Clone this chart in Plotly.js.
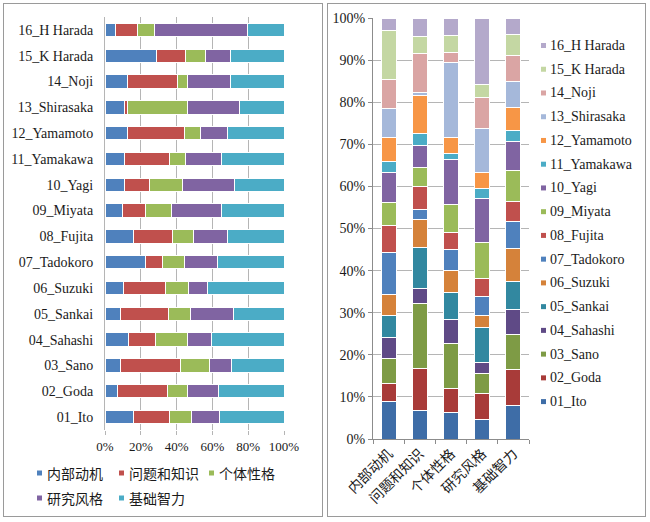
<!DOCTYPE html>
<html><head><meta charset="utf-8">
<script src="https://cdn.plot.ly/plotly-3.0.1.min.js"></script>
<style>
html,body{margin:0;padding:0;background:#fff;}
#left,#right{position:absolute;top:3px;height:514px;border:1px solid #9a9a9a;box-sizing:border-box;background:#fff;}
#left{left:3px;width:320px;}
#right{left:327px;width:319px;}
</style></head><body>
<div id="left"></div><div id="right"></div>
<script>
// ---------- shared labels ----------
const persons = ['01_Ito','02_Goda','03_Sano','04_Sahashi','05_Sankai','06_Suzuki','07_Tadokoro','08_Fujita',
  '09_Miyata','10_Yagi','11_Yamakawa','12_Yamamoto','13_Shirasaka','14_Noji','15_K Harada','16_H Harada'];
const dimensions = ['内部动机','问题和知识','个体性格','研究风格','基础智力'];
const xTickLabels = ['0%','20%','40%','60%','80%','100%'];

// ---------- left chart: share of each dimension within a person (%) ----------
const rowMotivation  = [15.9, 6.7, 8.6,12.9, 8.4,10.1,22.7,15.7, 9.6,10.9,10.9,12.7,11.0,12.7,28.7, 5.6];
const rowKnowledge   = [20.0,27.9,33.7,15.2,26.8,23.8, 9.4,21.9,13.1,13.7,24.9,31.6, 1.5,27.7,16.5,12.7];
const rowPersonality = [12.4,11.2,15.9,17.8,12.4,12.5,12.5,11.8,14.4,18.9, 9.4, 9.2,33.5, 5.4,11.2, 9.2];
const rowStyle       = [15.4,17.8,12.4,13.7,24.3,10.7,18.5,19.3,28.1,29.0,20.0,14.6,29.0,24.5,13.5,52.2];
const rowIntellect   = [36.3,36.3,29.4,40.4,28.1,42.9,36.9,31.3,34.8,27.5,34.8,31.8,24.9,29.6,30.1,20.2];

// ---------- right chart: share of each person within a dimension (%) ----------
const colMotivation  = [8.9, 4.2, 6.1, 4.9, 5.2, 5.1, 9.9, 6.4, 5.4, 7.3, 2.4, 5.7, 7.0, 6.9,11.7, 2.9];
const colKnowledge   = [6.7,10.1,15.5, 3.4, 9.7, 6.8, 2.4, 5.3, 4.5, 5.4, 2.8, 8.9, 0.8, 9.2, 4.2, 4.3];
const colPersonality = [6.2, 5.9,10.5, 5.9, 6.4, 5.2, 4.9, 4.0, 6.8,10.6, 1.5, 3.6,18.0, 2.3, 4.1, 4.1];
const colStyle       = [4.7, 6.0, 4.9, 2.6, 8.3, 2.9, 4.4, 4.4, 8.5,10.4, 2.3, 3.8,10.6, 7.4, 3.0,15.8];
const colIntellect   = [7.9, 8.7, 8.3, 5.9, 6.5, 8.0, 6.4, 4.7, 7.3, 6.9, 2.6, 5.6, 6.2, 6.1, 4.9, 4.0];

// ---------- styles ----------
const dimColors = ['#4F81BD','#C0504D','#9BBB59','#8064A2','#4BACC6'];
const personColors = ['#3E6DA7','#A83B39','#7E9B45','#5F4A86','#3288A0','#D5823A','#4F81BD','#C0504D',
  '#9BBB59','#8064A2','#4BACC6','#F79646','#A5B8DA','#DAA5A4','#C4D7A3','#B4A9CB'];
const serif = 'Liberation Serif, Times New Roman, serif';
const cjk = 'Noto Sans CJK SC, sans-serif';
const gridC = '#b5b5b5';
const txtC = '#1a1a1a';

// ================= LEFT =================
(function(){
  const W = 318, H = 512, L = 101, T = 13, PW = 179, PH = 413;
  const rows = [rowMotivation, rowKnowledge, rowPersonality, rowStyle, rowIntellect];
  const traces = rows.map((vals, i) => ({
    type: 'bar', orientation: 'h', name: dimensions[i], y: persons, x: vals,
    marker: {color: dimColors[i], line: {color: '#ffffff', width: 1}},
    hoverinfo: 'y+x+name'
  }));
  // legend built from the dimension names / colours
  const px2x = p => (p - (L + 4)) / PW;
  const px2y = p => ((T + 4 + PH) - p) / PH;
  const legPos = [[37,473],[119,473],[209,473],[37,498],[119,498]];
  const shapes = [], annotations = [];
  dimensions.forEach((d, i) => {
    const [sx, sy] = legPos[i];
    shapes.push({type:'rect', xref:'paper', yref:'paper', x0: px2x(sx), x1: px2x(sx+5), y0: px2y(sy+2.5), y1: px2y(sy-2.5),
      fillcolor: dimColors[i], line: {width: 0}});
    annotations.push({xref:'paper', yref:'paper', x: px2x(sx+8), y: px2y(sy), xanchor:'left', yanchor:'middle',
      text: d, showarrow:false, font:{family: cjk, size: 14, color: txtC}});
  });
  const layout = {
    width: W, height: H, margin: {l: L, r: W - L - PW, t: T, b: H - T - PH},
    paper_bgcolor: '#fff', plot_bgcolor: '#fff',
    barmode: 'stack', barnorm: 'percent', bargap: 0.48, showlegend: false,
    xaxis: {range: [0, 100], tickvals: [0,20,40,60,80,100], ticktext: xTickLabels, showgrid: true, gridcolor: gridC, gridwidth: 1,
      zeroline: false, showline: false, ticks: 'outside', ticklen: 4, tickcolor: gridC,
      tickfont: {family: serif, size: 13, color: txtC}, fixedrange: true},
    yaxis: {type: 'category', showgrid: false, zeroline: false, showline: true, linecolor: gridC, linewidth: 1,
      ticks: '', ticklabelstandoff: 8, tickfont: {family: serif, size: 14, color: txtC}, fixedrange: true},
    shapes, annotations, font: {family: serif}
  };
  Plotly.newPlot('left', traces, layout, {displayModeBar: false, staticPlot: true});
})();

// ================= RIGHT =================
(function(){
  const W = 317, H = 512, L = 45, T = 14, PW = 156, PH = 421;
  const cols = [colMotivation, colKnowledge, colPersonality, colStyle, colIntellect];
  const traces = persons.map((p, j) => ({
    type: 'bar', name: p, x: dimensions, y: cols.map(c => c[j]),
    marker: {color: personColors[j], line: {color: '#ffffff', width: 1}},
    hoverinfo: 'x+y+name'
  }));
  const px2x = p => (p - (328 + L)) / PW;
  const px2y = p => ((T + 4 + PH) - p) / PH;
  const shapes = [], annotations = [];
  const topY = 45.5, step = 23.74, sqX = 541;
  persons.forEach((p, j) => {
    const cy = topY + (persons.length - 1 - j) * step;
    shapes.push({type:'rect', xref:'paper', yref:'paper', x0: px2x(sqX), x1: px2x(sqX+5), y0: px2y(cy+2.5), y1: px2y(cy-2.5),
      fillcolor: personColors[j], line: {width: 0}});
    annotations.push({xref:'paper', yref:'paper', x: px2x(sqX+7), y: px2y(cy), xanchor:'left', yanchor:'middle',
      text: p, showarrow:false, font:{family: serif, size: 14, color: txtC}});
  });
  const layout = {
    width: W, height: H, margin: {l: L, r: W - L - PW, t: T, b: H - T - PH},
    paper_bgcolor: '#fff', plot_bgcolor: '#fff',
    barmode: 'stack', barnorm: 'percent', bargap: 0.52, showlegend: false,
    yaxis: {range: [0, 100], dtick: 10, ticksuffix: '%', showgrid: true, gridcolor: gridC, gridwidth: 1,
      zeroline: false, showline: true, linecolor: '#8c8c8c', ticks: 'outside', ticklen: 4, tickcolor: '#8c8c8c',
      tickfont: {family: serif, size: 14, color: txtC}, fixedrange: true},
    xaxis: {type: 'category', showgrid: false, zeroline: false, showline: true, linecolor: '#8c8c8c',
      ticks: 'outside', tickson: 'boundaries', ticklen: 4, tickcolor: '#8c8c8c', tickangle: -45,
      tickfont: {family: cjk, size: 14, color: txtC}, fixedrange: true},
    shapes, annotations, font: {family: serif}
  };
  Plotly.newPlot('right', traces, layout, {displayModeBar: false, staticPlot: true});
})();
</script>
</body></html>
